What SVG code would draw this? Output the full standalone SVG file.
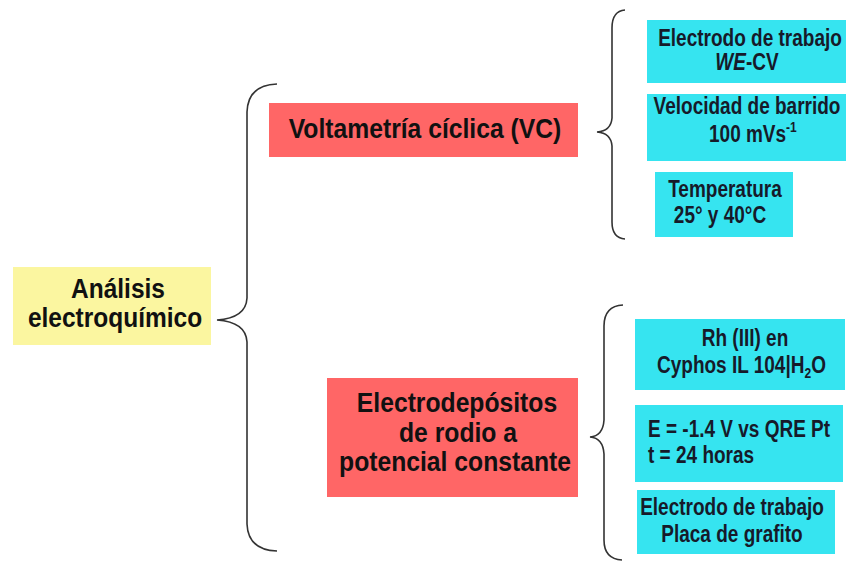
<svg xmlns="http://www.w3.org/2000/svg" width="846" height="562" viewBox="0 0 846 562">
<style>
.yel{fill:#FBF6A0}
.red{fill:#FF6666}
.cyan{fill:#36E4F0}
text{font-family:"Liberation Sans",Arial,sans-serif;font-weight:bold}
.big{font-size:24.7px;fill:#111111}
.yl{font-size:24.5px;fill:#111111}
.sm{font-size:19px;fill:#161A2A}
.mid{text-anchor:middle}
.brace{fill:none;stroke:#333333;stroke-width:1.6}
</style>
<rect width="846" height="562" fill="#ffffff"/>
<g id="connectors">
<path class="brace" d="M277,84 Q248,85 247,112 L247,298 Q246,318 217,320 Q246,322 247,342 L247,524 Q248,550 277,551"/>
<path class="brace" d="M625,10 Q612,11 612,28 L612,118 Q611,131 597,132 Q611,133 612,146 L612,222 Q612,238 625,239"/>
<path class="brace" d="M623,305 Q604,306 604,326 L604,420 Q603,436 590,437 Q603,438 604,454 L604,540 Q604,559 622,560"/>
</g>
<g id="analisis">
<rect class="yel" x="13" y="267" width="198" height="78"/>
<text class="yl mid" transform="translate(118,298) scale(1,1.1)">Análisis</text>
<text class="yl mid" transform="translate(115,327) scale(1,1.1)">electroquímico</text>
</g>
<g id="vc">
<rect class="red" x="269" y="103" width="309" height="54"/>
<text class="big mid" transform="translate(425,138) scale(1,1.13)">Voltametría cíclica (VC)</text>
</g>
<g id="electrodep">
<rect class="red" x="327" y="378" width="251" height="119"/>
<text class="big mid" transform="translate(457,412) scale(1,1.13)">Electrodepósitos</text>
<text class="big mid" transform="translate(458,442) scale(1,1.13)">de rodio a</text>
<text class="big mid" transform="translate(455,471) scale(1,1.13)">potencial constante</text>
</g>
<g id="we-cv">
<rect class="cyan" x="647" y="20" width="199" height="63"/>
<text class="sm mid" transform="translate(750,46) scale(1,1.22)">Electrodo de trabajo</text>
<text class="sm mid" transform="translate(747,70) scale(1,1.22)"><tspan font-style="italic">WE</tspan>-CV</text>
</g>
<g id="velocidad">
<rect class="cyan" x="647" y="94" width="199" height="67"/>
<text class="sm mid" transform="translate(747,114) scale(1,1.22)" font-size="19.5">Velocidad de barrido</text>
<text class="sm" transform="translate(709,142) scale(1,1.22)">100 mVs<tspan font-size="12" dy="-8">-1</tspan></text>
</g>
<g id="temperatura">
<rect class="cyan" x="655" y="172" width="138" height="65"/>
<text class="sm mid" transform="translate(725,197) scale(1,1.22)">Temperatura</text>
<text class="sm mid" transform="translate(720,223) scale(1,1.22)">25° y 40°C</text>
</g>
<g id="rh">
<rect class="cyan" x="635" y="319" width="210" height="71"/>
<text class="sm mid" transform="translate(745,346) scale(1,1.22)">Rh (III) en</text>
<text class="sm" transform="translate(657,373) scale(1,1.22)">Cyphos IL 104|H<tspan font-size="12" dy="4">2</tspan><tspan dy="-4">O</tspan></text>
</g>
<g id="potencial">
<rect class="cyan" x="635" y="405" width="208" height="77"/>
<text class="sm" transform="translate(648,437) scale(1,1.22)">E = -1.4 V vs QRE Pt</text>
<text class="sm" transform="translate(648,463) scale(1,1.22)">t = 24 horas</text>
</g>
<g id="grafito">
<rect class="cyan" x="637" y="490" width="198" height="64"/>
<text class="sm mid" transform="translate(732,515) scale(1,1.22)">Electrodo de trabajo</text>
<text class="sm mid" transform="translate(732,542) scale(1,1.22)">Placa de grafito</text>
</g>
</svg>
